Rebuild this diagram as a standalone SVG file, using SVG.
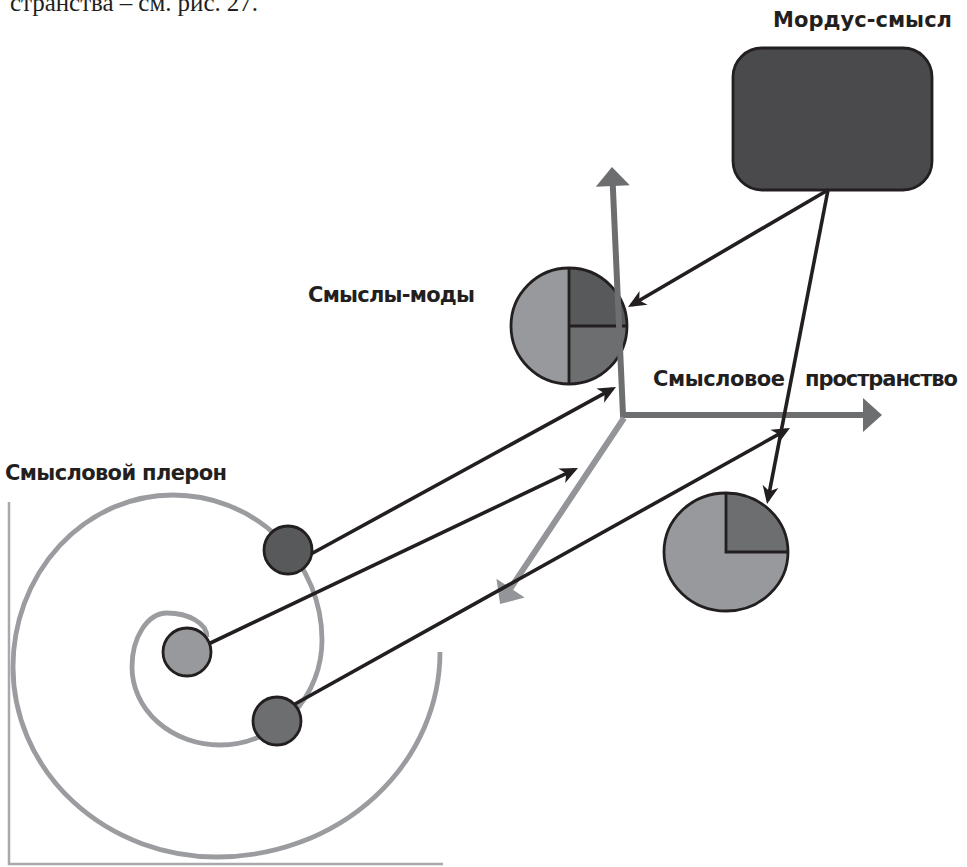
<svg xmlns="http://www.w3.org/2000/svg" width="967" height="867" viewBox="0 0 967 867">
  <style>
    .label { font-family: "DejaVu Sans", "Liberation Sans", sans-serif; font-weight: bold; font-size: 21px; fill: #231f20; }
    .caption { font-family: "Liberation Serif", serif; font-size: 25px; fill: #231f20; }
    .outline { stroke: #231f20; stroke-width: 2.8; }
    .conn { fill: none; stroke: #231f20; stroke-width: 3.6; marker-end: url(#arrowBlack); }
    .spiral { fill: none; stroke: #9b9c9f; stroke-width: 4.8; }
    .frame { fill: none; stroke: #a7a9ac; stroke-width: 2.5; }
    .axis-dark { fill: none; stroke: #6d6e70; stroke-width: 6; stroke-linejoin: miter; }
    .axis-light { fill: none; stroke: #939598; stroke-width: 6; }
  </style>
  <defs>
    <marker id="arrowBlack" viewBox="-19 -10 21 20" refX="-4" refY="0" markerWidth="21" markerHeight="20" markerUnits="userSpaceOnUse" orient="auto">
      <path d="M0,0 L-18,-8 L-13,0 L-18,8 Z" fill="#231f20"/>
    </marker>
    <marker id="axisHeadDark" viewBox="-20 -18 22 36" refX="-12" refY="0" markerWidth="22" markerHeight="36" markerUnits="userSpaceOnUse" orient="auto-start-reverse">
      <path d="M0,0 L-19,-17 L-19,17 Z" fill="#6d6e70"/>
    </marker>
    <marker id="axisHeadLight" viewBox="-20 -18 22 36" refX="-12" refY="0" markerWidth="22" markerHeight="36" markerUnits="userSpaceOnUse" orient="auto">
      <path d="M0,0 L-19,-17 L-19,17 Z" fill="#939598"/>
    </marker>
  </defs>

  <rect width="967" height="867" fill="#ffffff"/>

  <!-- running text of the page, cut at the top edge -->
  <text class="caption" x="10" y="11" textLength="248">странства – см. рис. 27.</text>

  <!-- labels -->
  <text class="label" x="773" y="27" textLength="179">Мордус-смысл</text>
  <text class="label" x="308" y="302" textLength="167">Смыслы-моды</text>
  <text class="label" x="653" y="386" textLength="132">Смысловое</text>
  <text class="label" x="805" y="386" textLength="153">пространство</text>
  <text class="label" x="5" y="480" textLength="222">Смысловой плерон</text>

  <!-- pleroma: frame and spiral -->
  <g id="pleroma">
    <path class="frame" d="M9,502 L9,864 L443,864"/>
    <path class="spiral" d="M440,652 A223,205 0 0 1 217,857 A204,190 0 0 1 13,667 A160,172 0 0 1 173,495 A149,145 0 0 1 322,640 A102,105 0 0 1 220,745 A88,78 0 0 1 132,667 A35,54 0 0 1 167,613 A40,24 0 0 1 207,637"/>
  </g>

  <!-- modus-sense block -->
  <g id="modus">
    <rect class="outline" x="733" y="48" width="199" height="142" rx="29" ry="29" fill="#4a4a4c"/>
  </g>

  <!-- sense-modes pie (halves and quarters) -->
  <g id="modes-pie">
    <circle cx="569" cy="326" r="58" fill="#98999c"/>
    <path d="M569,326 L569,268 A58,58 0 0 1 627,326 Z" fill="#58595b"/>
    <path d="M569,326 L627,326 A58,58 0 0 1 569,384 Z" fill="#6d6e70"/>
    <circle cx="569" cy="326" r="58" fill="none" class="outline"/>
    <path class="outline" fill="none" d="M569,268 L569,384 M569,326 L627,326"/>
  </g>

  <!-- lower pie (one quarter) -->
  <g id="quarter-pie">
    <ellipse cx="726" cy="552" rx="62" ry="59" fill="#98999c"/>
    <path d="M726,552 L726,493 A62,59 0 0 1 788,552 Z" fill="#6d6e70"/>
    <ellipse cx="726" cy="552" rx="62" ry="59" fill="none" class="outline"/>
    <path class="outline" fill="none" d="M726,493 L726,552 L788,552"/>
  </g>

  <!-- sense space axes -->
  <g id="axes">
    <path class="axis-dark" d="M612.5,179 L623,415 L870,415" marker-start="url(#axisHeadDark)" marker-end="url(#axisHeadDark)"/>
    <path class="axis-light" d="M624,418 L506.7,594" marker-end="url(#axisHeadLight)"/>
  </g>

  <!-- connectors -->
  <g id="connectors">
    <line class="conn" x1="828" y1="190" x2="631.5" y2="305"/>
    <line class="conn" x1="828" y1="190" x2="767.8" y2="500.1"/>
    <line class="conn" x1="300" y1="560" x2="612.5" y2="388.9"/>
    <line class="conn" x1="200" y1="648" x2="574.4" y2="469.7"/>
    <line class="conn" x1="286" y1="709" x2="786.5" y2="429.9"/>
  </g>

  <!-- points of the pleroma -->
  <g id="point-upper">
    <circle class="outline" cx="288" cy="550" r="24" fill="#58595b"/>
  </g>
  <g id="point-center">
    <circle class="outline" cx="187" cy="652" r="24" fill="#98999c"/>
  </g>
  <g id="point-lower">
    <circle class="outline" cx="277" cy="721" r="24" fill="#6d6e70"/>
  </g>
</svg>
